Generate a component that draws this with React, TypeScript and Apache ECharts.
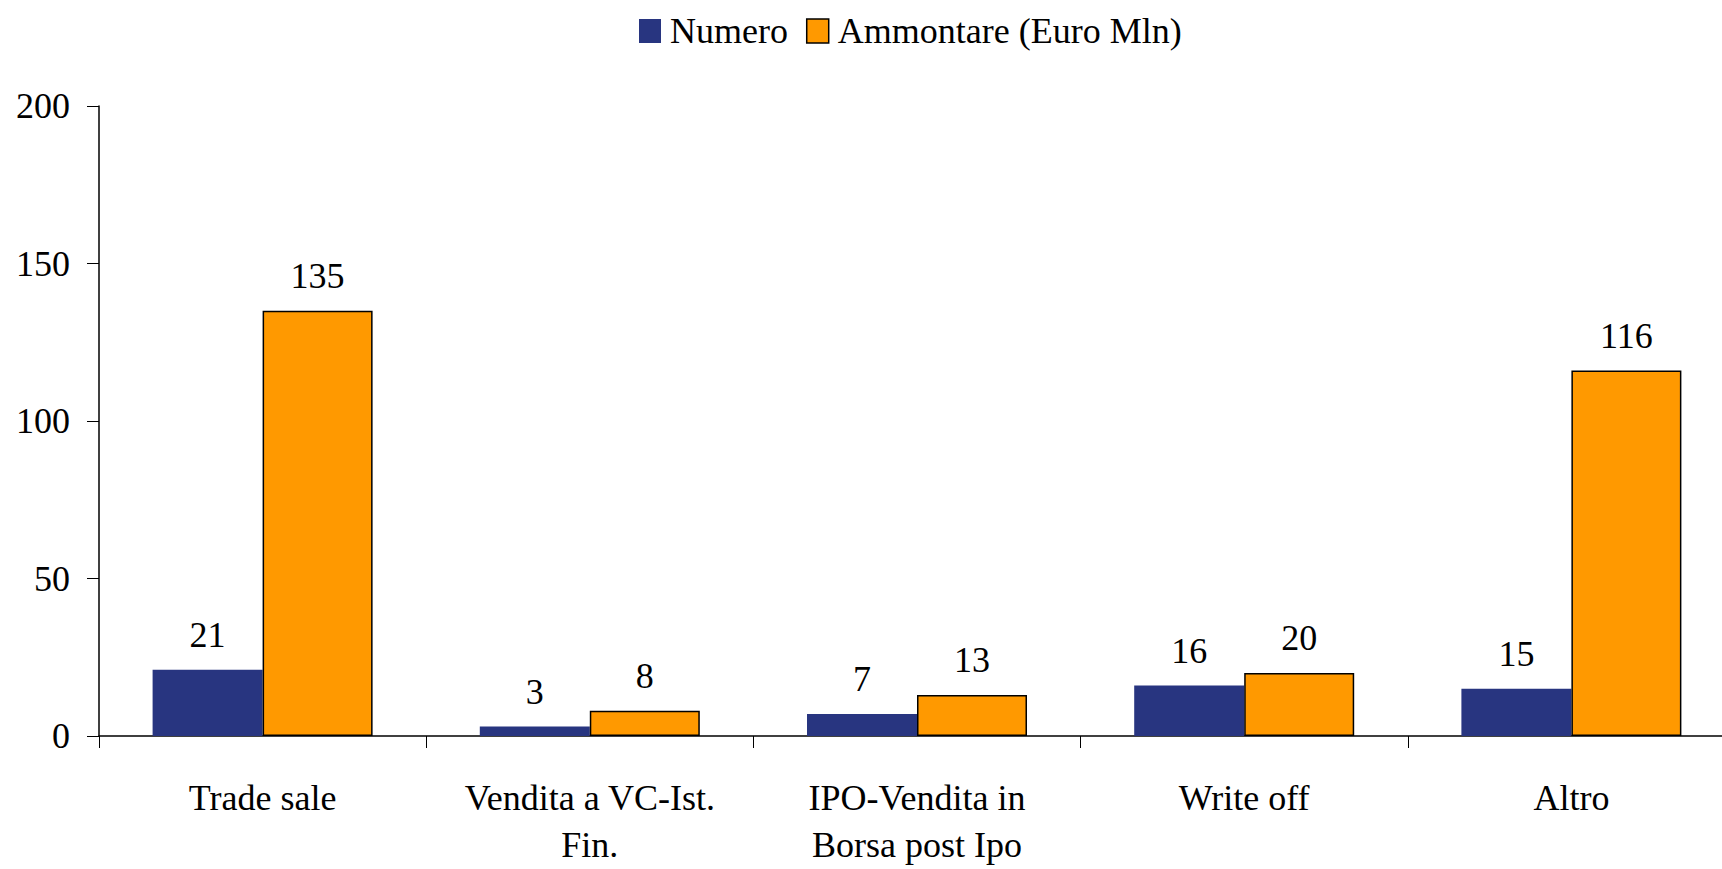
import React, { useEffect, useRef } from "react";
import * as echarts from "echarts";

const categories = [
  "Trade sale",
  "Vendita a VC-Ist.\nFin.",
  "IPO-Vendita in\nBorsa post Ipo",
  "Write off",
  "Altro",
];
const numero = [21, 3, 7, 16, 15];
const ammontare = [135, 8, 13, 20, 116];
const seriesNames = ["Numero", "Ammontare (Euro Mln)"];
const yTicks = { min: 0, max: 200, interval: 50 };

const FONT = "'Liberation Serif', 'Times New Roman', serif";

export default function App() {
  const ref = useRef<HTMLDivElement>(null);
  useEffect(() => {
    if (!ref.current) return;
    const chart = echarts.init(ref.current, undefined, { renderer: "svg" });
    const labelStyle = {
      show: true,
      position: "top" as const,
      distance: 17,
      color: "#000",
      fontFamily: FONT,
      fontSize: 36,
    };
    chart.setOption({
      animation: false,
      backgroundColor: "#fff",
      textStyle: { fontFamily: FONT },
      legend: {
        left: 634,
        top: 8,
        itemWidth: 22,
        itemHeight: 24,
        itemGap: 18,
        icon: "rect",
        textStyle: {
          fontFamily: FONT,
          fontSize: 36,
          color: "#000",
          padding: [0, 0, 0, 4],
        },
        data: [
          { name: seriesNames[0], itemStyle: { borderWidth: 0 } },
          { name: seriesNames[1], itemStyle: { borderColor: "#000", borderWidth: 1.5 } },
        ],
      },
      grid: { left: 99, right: 0, top: 106, bottom: 133 },
      xAxis: {
        type: "category",
        data: categories,
        axisLine: { lineStyle: { color: "#000", width: 1.5 } },
        axisTick: { show: true, length: 12, lineStyle: { color: "#000" } },
        axisLabel: {
          color: "#000",
          fontFamily: FONT,
          fontSize: 36,
          lineHeight: 47,
          margin: 38,
          interval: 0,
        },
      },
      yAxis: {
        type: "value",
        min: yTicks.min,
        max: yTicks.max,
        interval: yTicks.interval,
        splitLine: { show: false },
        axisLine: { show: true, lineStyle: { color: "#000", width: 1.5 } },
        axisTick: { show: true, length: 12, lineStyle: { color: "#000" } },
        axisLabel: { color: "#000", fontFamily: FONT, fontSize: 36, margin: 29 },
      },
      series: [
        {
          name: seriesNames[0],
          type: "bar",
          data: numero,
          barWidth: 110,
          barGap: "0%",
          itemStyle: { color: "#283580" },
          label: labelStyle,
        },
        {
          name: seriesNames[1],
          type: "bar",
          data: ammontare,
          barWidth: 110,
          barGap: "0%",
          itemStyle: { color: "#FF9900", borderColor: "#000", borderWidth: 1.5 },
          label: labelStyle,
        },
      ],
    });
    return () => chart.dispose();
  }, []);
  return (
    <div
      style={{
        position: "absolute",
        left: 0,
        top: 0,
        width: 1722,
        height: 869,
        overflow: "hidden",
      }}
    >
      <div ref={ref} style={{ width: 1735, height: 869 }} />
    </div>
  );
}
